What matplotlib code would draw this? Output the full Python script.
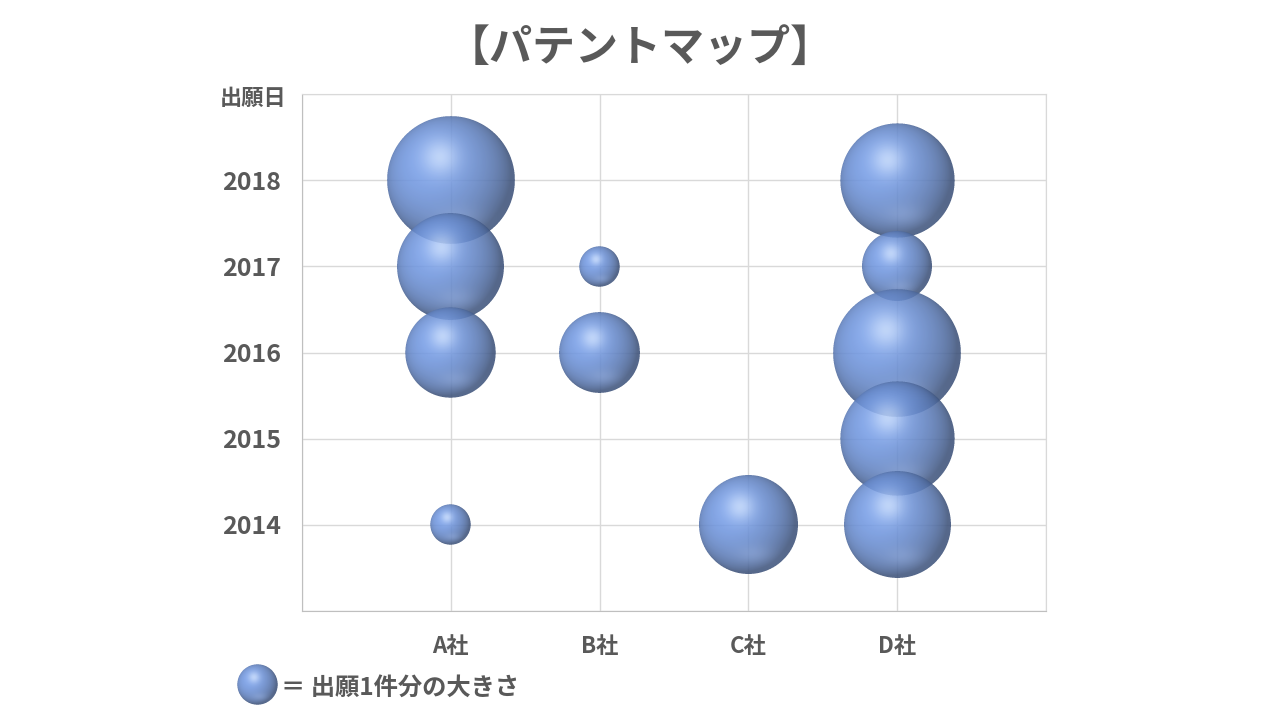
import numpy as np
import matplotlib
matplotlib.use("Agg")
import matplotlib.pyplot as plt
from matplotlib.offsetbox import OffsetImage, AnnotationBbox

plt.rcParams['font.family'] = ['Noto Sans CJK JP', 'DejaVu Sans']

# data
companies = ['A社', 'B社', 'C社', 'D社']
year_ticks = [2014, 2015, 2016, 2017, 2018]
bubble_company = ['A社', 'A社', 'A社', 'A社', 'B社', 'B社', 'C社', 'D社', 'D社', 'D社', 'D社', 'D社']
bubble_year = [2018, 2017, 2016, 2014, 2017, 2016, 2014, 2018, 2017, 2016, 2015, 2014]
bubble_count = [10, 7, 5, 1, 1, 4, 6, 8, 3, 10, 8, 7]

text_color = '#595959'
unit_radius = 20.2  # px radius of a 1-count bubble


def sphere_rgba(r_px, ss=4):
    # shaded, slightly transparent sphere image (supersampled)
    n = int(np.ceil(2 * r_px)) + 2
    N = n * ss
    c = (np.arange(N) + 0.5) / ss - n / 2
    X, Y = np.meshgrid(c, -c)
    x, y = X / r_px, Y / r_px
    rr = x ** 2 + y ** 2
    inside = (rr <= 1).astype(float)
    z = np.sqrt(np.clip(1 - rr, 0, 1))

    L = np.array([-0.35, 0.3, 0.89])
    L = L / np.linalg.norm(L)
    d = np.clip(x * L[0] + y * L[1] + z * L[2], 0, 1)

    mid = np.array([112, 150, 222]) / 255
    light = np.array([210, 228, 255]) / 255
    refl = np.array([150, 178, 232]) / 255

    shade = 0.55 + 0.5 * d
    col = mid[None, None, :] * shade[..., None]
    h = np.exp(-((x + 0.17) ** 2 + (y - 0.36) ** 2) / 0.08)
    col = col + (light - col) * (0.7 * h)[..., None]
    b = np.exp(-((x - 0.1) ** 2) / 0.15 - ((y + 0.6) ** 2) / 0.04)
    col = col + (refl - col) * (0.35 * b)[..., None]
    col = np.clip(col, 0, 1)

    a = inside * 0.88
    prem = np.concatenate([col * a[..., None], a[..., None]], axis=2)
    prem = prem.reshape(n, ss, n, ss, 4).mean(axis=(1, 3))
    alpha = prem[..., 3:4]
    rgb = np.where(alpha > 0, prem[..., :3] / np.maximum(alpha, 1e-9), 0)
    return np.concatenate([rgb, alpha], axis=2)


fig = plt.figure(figsize=(12.8, 7.2), dpi=100)
ax = fig.add_axes([302 / 1280, 1 - 611 / 720, 744 / 1280, 517 / 720])

ax.set_xlim(0, 5)
ax.set_ylim(2013, 2019)
ax.set_xticks(range(0, 6))
ax.set_xticklabels([''] + companies + [''])
ax.set_yticks(range(2013, 2020))
ax.set_yticklabels([''] + [str(v) for v in year_ticks] + [''])
ax.grid(True, color='#D9D9D9', linewidth=1.0, zorder=0)
ax.set_axisbelow(True)
ax.tick_params(length=0, colors=text_color)
ax.tick_params(axis='y', pad=15, labelsize=18)
ax.tick_params(axis='x', pad=17, labelsize=16)
for lab in ax.get_xticklabels() + ax.get_yticklabels():
    lab.set_fontweight('bold')
for side in ['top', 'right']:
    ax.spines[side].set_color('#D9D9D9')
for side in ['left', 'bottom']:
    ax.spines[side].set_color('#BFBFBF')

# bubbles: area proportional to count, lower years drawn on top
order = sorted(range(len(bubble_year)), key=lambda i: -bubble_year[i])
for k, i in enumerate(order):
    xi = companies.index(bubble_company[i]) + 1
    r = unit_radius * np.sqrt(bubble_count[i])
    img = OffsetImage(sphere_rgba(r), zoom=1, dpi_cor=False)
    ab = AnnotationBbox(img, (xi, bubble_year[i]), xycoords='data', frameon=False,
                        pad=0, box_alignment=(0.5, 0.5), annotation_clip=False)
    ab.set_zorder(3 + k)
    ax.add_artist(ab)

# axis caption and title
fig.text(287 / 1280, 1 - 98 / 720, '出願日', ha='right', va='center',
         fontsize=16, fontweight='bold', color=text_color)
fig.text(0.5, 1 - 48 / 720, '【パテントマップ】', ha='center', va='center',
         fontsize=31, fontweight='bold', color=text_color)

# size legend
leg_img = OffsetImage(sphere_rgba(unit_radius), zoom=1, dpi_cor=False)
fig.add_artist(AnnotationBbox(leg_img, (257, 720 - 685), xycoords='figure pixels',
                              frameon=False, pad=0, box_alignment=(0.5, 0.5)))
fig.text(281 / 1280, 1 - 688 / 720, '＝ 出願1件分の大きさ', ha='left', va='center',
         fontsize=17.5, fontweight='bold', color=text_color)

fig.savefig('out.png', dpi=100)
